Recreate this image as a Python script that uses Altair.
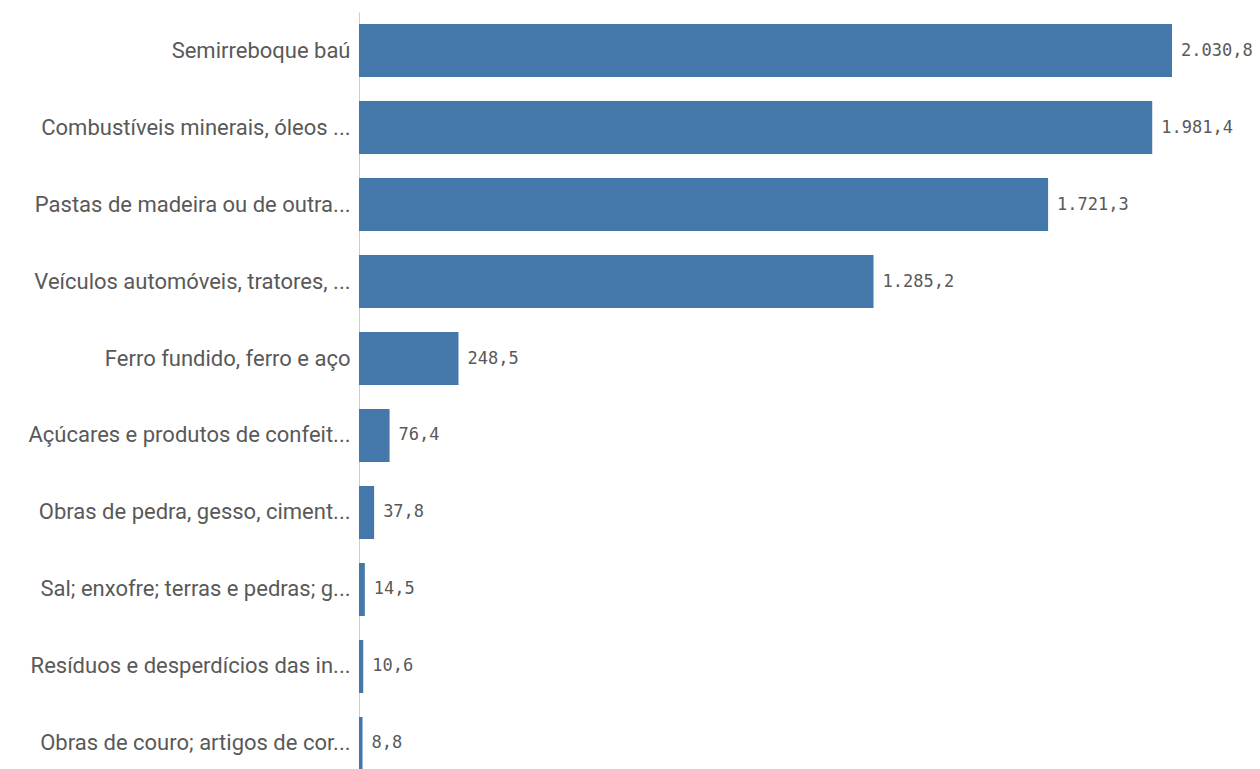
import altair as alt
import pandas as pd

categories = [
    "Semirreboque baú",
    "Combustíveis minerais, óleos ...",
    "Pastas de madeira ou de outra...",
    "Veículos automóveis, tratores, ...",
    "Ferro fundido, ferro e aço",
    "Açúcares e produtos de confeit...",
    "Obras de pedra, gesso, ciment...",
    "Sal; enxofre; terras e pedras; g...",
    "Resíduos e desperdícios das in...",
    "Obras de couro; artigos de cor...",
]
values = [2030.8, 1981.4, 1721.3, 1285.2, 248.5, 76.4, 37.8, 14.5, 10.6, 8.8]


def fmt_pt(v):
    s = f"{v:,.1f}"
    return s.replace(",", "X").replace(".", ",").replace("X", ".")


df = pd.DataFrame({
    "cat": categories,
    "val": values,
    "label": [fmt_pt(v) for v in values],
})

y_enc = alt.Y(
    "cat:N",
    sort=categories,
    title=None,
    scale=alt.Scale(paddingInner=0.3117, paddingOuter=0.156),
    axis=alt.Axis(
        domain=True,
        domainColor="#cccccc",
        domainWidth=1,
        ticks=False,
        labelFont="Roboto",
        labelFontSize=22,
        labelColor="#595959",
        labelPadding=9,
        labelLimit=0,
    ),
)
x_enc = alt.X(
    "val:Q",
    title=None,
    scale=alt.Scale(domain=[0, 2030.8], nice=False, zero=True),
    axis=None,
)

bars = alt.Chart(df).mark_bar(color="#4477aa").encode(y=y_enc, x=x_enc)
texts = alt.Chart(df).mark_text(
    align="left",
    baseline="middle",
    dx=9,
    font="DejaVu Sans Mono",
    fontSize=17,
    color="#595959",
).encode(y=alt.Y("cat:N", sort=categories), x=alt.X("val:Q"), text="label:N")

chart = alt.layer(bars, texts).properties(
    width=813,
    height=770,
    padding={"left": 351, "top": 4, "right": 80, "bottom": 0},
    autosize=alt.AutoSizeParams(type="none"),
).configure_view(stroke=None)

chart.save("out.html", embed_options={"renderer": "svg", "actions": False})
